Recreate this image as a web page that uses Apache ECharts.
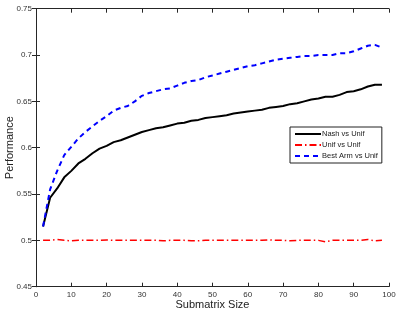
<!DOCTYPE html>
<html><head><meta charset="utf-8">
<script src="https://cdn.jsdelivr.net/npm/echarts@6/dist/echarts.min.js"></script>
<style>html,body{margin:0;padding:0;background:#fff}#c{width:399px;height:313px}</style>
</head><body><div id="c"></div>
<script>
const sizes = [2,4,6,8,10,12,14,16,18,20,22,24,26,28,30,32,34,36,38,40,42,44,46,48,50,52,54,56,58,60,62,64,66,68,70,72,74,76,78,80,82,84,86,88,90,92,94,96,98];
const nashVsUnif = [0.515,0.546,0.556,0.568,0.575,0.583,0.588,0.594,0.599,0.602,0.606,0.608,0.611,0.614,0.617,0.619,0.621,0.622,0.624,0.626,0.627,0.629,0.630,0.632,0.633,0.634,0.635,0.637,0.638,0.639,0.640,0.641,0.643,0.644,0.645,0.647,0.648,0.650,0.652,0.653,0.655,0.655,0.657,0.660,0.661,0.663,0.666,0.668,0.668];
const unifVsUnif = [0.500,0.500,0.501,0.500,0.4995,0.500,0.500,0.500,0.500,0.5005,0.500,0.500,0.500,0.500,0.500,0.500,0.500,0.4995,0.500,0.500,0.500,0.4995,0.4995,0.500,0.500,0.500,0.500,0.500,0.500,0.500,0.500,0.500,0.5005,0.500,0.500,0.4995,0.500,0.500,0.500,0.500,0.4985,0.500,0.500,0.500,0.500,0.500,0.501,0.4995,0.500];
const bestArmVsUnif = [0.515,0.555,0.575,0.592,0.601,0.610,0.617,0.623,0.629,0.634,0.640,0.643,0.645,0.650,0.656,0.659,0.661,0.663,0.664,0.667,0.670,0.672,0.673,0.676,0.678,0.680,0.682,0.684,0.686,0.688,0.689,0.691,0.693,0.695,0.696,0.697,0.698,0.699,0.699,0.700,0.700,0.700,0.702,0.702,0.704,0.707,0.710,0.711,0.708];
const seriesNames = ['Nash vs Unif','Unif vs Unif','Best Arm vs Unif'];
const xTicks = [0,10,20,30,40,50,60,70,80,90,100];
const yTicks = [0.45,0.5,0.55,0.6,0.65,0.7,0.75];

const font = 'Liberation Sans';
const pair = arr => sizes.map((s,i)=>[s,arr[i]]);
const axisLineC = '#262626';
const chart = echarts.init(document.getElementById('c'), null, {renderer:'canvas'});
const baseX = {type:'value', min:0, max:100, interval:10,
  axisLine:{show:true, lineStyle:{color:axisLineC, width:1}},
  axisTick:{show:true, inside:true, length:4, lineStyle:{color:axisLineC}},
  splitLine:{show:false}};
const baseY = {type:'value', min:0.45, max:0.75, interval:0.05,
  axisLine:{show:true, lineStyle:{color:axisLineC, width:1}},
  axisTick:{show:true, inside:true, length:4, lineStyle:{color:axisLineC}},
  splitLine:{show:false}};
chart.setOption({
  animation:false,
  backgroundColor:'#fff',
  textStyle:{fontFamily:font},
  grid:{left:36, right:10, top:8.7, bottom:26.3, containLabel:false, outerBoundsMode:'none'},
  xAxis:[
    Object.assign({}, baseX, {position:'bottom', name:'Submatrix Size', nameLocation:'middle', nameGap:13, nameMoveOverlap:false,
      nameTextStyle:{fontFamily:font, fontSize:11, color:'#222'},
      axisLabel:{fontFamily:font, fontSize:8, color:'#333', margin:4,
        formatter:v=>xTicks.includes(v)?String(v):''}}),
    Object.assign({}, baseX, {position:'top', axisLabel:{show:false}})
  ],
  yAxis:[
    Object.assign({}, baseY, {position:'left', name:'Performance', nameLocation:'middle', nameGap:21, nameMoveOverlap:false,
      nameTextStyle:{fontFamily:font, fontSize:11, color:'#222'},
      axisLabel:{fontFamily:font, fontSize:8, color:'#333', margin:4,
        formatter:v=>{const t=yTicks.find(y=>Math.abs(y-v)<1e-9);return t===undefined?'':String(t);}}}),
    Object.assign({}, baseY, {position:'right', axisLabel:{show:false}})
  ],
  legend:{
    orient:'vertical', left:290, top:127, itemWidth:26, itemHeight:8, itemGap:3,
    padding:[3,4,3,4], backgroundColor:'#fff', borderColor:'#222', borderWidth:1, borderRadius:0,
    itemStyle:{color:'rgba(0,0,0,0)', borderWidth:0, opacity:0},
    textStyle:{fontFamily:font, fontSize:7.5, color:'#222', padding:[0,0,0,-4]},
    data:seriesNames
  },
  series:[
    {name:seriesNames[0], type:'line', data:pair(nashVsUnif), symbol:'none', showSymbol:false,
      lineStyle:{color:'#000', width:2}, itemStyle:{color:'#000'}},
    {name:seriesNames[1], type:'line', data:pair(unifVsUnif), symbol:'none', showSymbol:false,
      lineStyle:{color:'#ff0000', width:1.5, type:[7,3,1.5,3]}, itemStyle:{color:'#ff0000'}},
    {name:seriesNames[2], type:'line', data:pair(bestArmVsUnif), symbol:'none', showSymbol:false,
      lineStyle:{color:'#0000ff', width:2, type:[5,4]}, itemStyle:{color:'#0000ff'}}
  ]
});
</script></body></html>
